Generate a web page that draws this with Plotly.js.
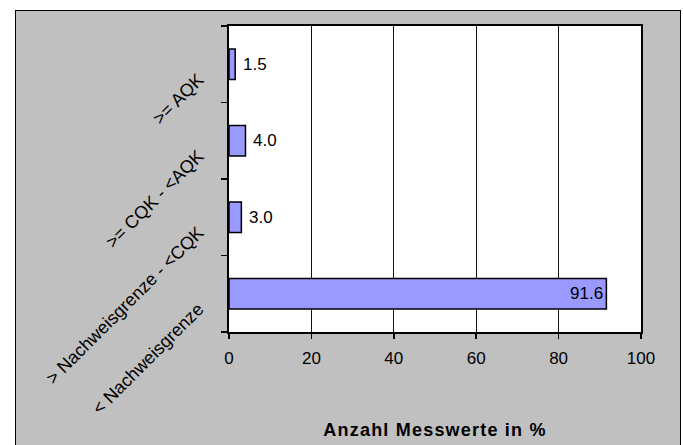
<!DOCTYPE html>
<html>
<head>
<meta charset="utf-8">
<script src="https://cdn.plot.ly/plotly-3.0.1.min.js"></script>
<style>
  html, body { margin: 0; padding: 0; background: #ffffff; overflow: hidden; }
  #wrap { position: relative; width: 683px; height: 445px; overflow: hidden; }
  #frame {
    position: absolute; left: 15px; top: 10px; width: 664px; height: 460px;
    background: #C0C0C0; border: 1.5px solid #000;
  }
  #chart { position: absolute; left: 0; top: 0; width: 683px; height: 445px; }
  /* slightly spaced bold axis title */
  #chart .xtitle { letter-spacing: 1.2px; }
</style>
</head>
<body>
<div id="wrap">
  <div id="frame"></div>
  <div id="chart"></div>
</div>
<script>
// Share of measurements per concentration class (bottom to top)
const categories = [
  "< Nachweisgrenze",
  "> Nachweisgrenze - <CQK",
  ">= CQK - <AQK",
  ">= AQK"
];
const shares = [91.6, 3.0, 4.0, 1.5];
const xTicks = [0, 20, 40, 60, 80, 100];
const xTitle = "Anzahl Messwerte in %";

const FONT = "'Liberation Sans', Arial, sans-serif";

const bars = {
  type: "bar",
  orientation: "h",
  x: shares,
  y: categories,
  width: 0.4,
  marker: { color: "#9999FF", line: { color: "#000000", width: 1.5 } },
  hoverinfo: "skip"
};

// Value labels: inside the long bar, outside the short ones
const labels = shares.map((v, i) => {
  const inside = v > 50;
  return {
    x: v, y: categories[i], xref: "x", yref: "y",
    text: v.toFixed(1), showarrow: false,
    xanchor: inside ? "right" : "left",
    xshift: inside ? -1 : 6,
    font: { family: FONT, size: 17, color: "#000" }
  };
});

const layout = {
  width: 683, height: 445,
  margin: { l: 229, r: 42, t: 26, b: 113 },
  paper_bgcolor: "rgba(0,0,0,0)",
  plot_bgcolor: "#ffffff",
  showlegend: false,
  font: { family: FONT, size: 17, color: "#000" },
  xaxis: {
    range: [0, 100],
    tickvals: xTicks,
    ticktext: xTicks.map(String),
    showgrid: true, gridcolor: "#111", gridwidth: 1,
    zeroline: false,
    showline: true, linecolor: "#000", linewidth: 2, mirror: true,
    ticks: "outside", ticklen: 5, tickwidth: 1.5, tickcolor: "#000",
    ticklabelstandoff: 5,
    tickfont: { family: FONT, size: 17 },
    title: { text: xTitle, font: { family: FONT, size: 18, weight: "bold" }, standoff: 56 }
  },
  yaxis: {
    type: "category",
    categoryorder: "array", categoryarray: categories,
    showgrid: false, zeroline: false,
    showline: true, linecolor: "#000", linewidth: 2, mirror: true,
    ticks: "outside", tickson: "boundaries", ticklen: 6, tickwidth: 1.5, tickcolor: "#000",
    tickangle: -45,
    ticklabelstandoff: 25,
    ticklabelshift: 13,
    tickfont: { family: FONT, size: 18 }
  },
  annotations: labels
};

Plotly.newPlot("chart", [bars], layout, { staticPlot: true, displayModeBar: false });
</script>
</body>
</html>
